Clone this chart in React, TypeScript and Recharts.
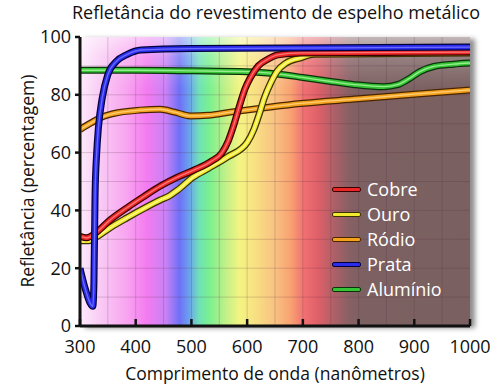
import React from "react";
import { LineChart, Line, XAxis, YAxis, CartesianGrid } from "recharts";

// Refletância de revestimentos metálicos (%). x = comprimento de onda (nm).
const xTicks = [300, 400, 500, 600, 700, 800, 900, 1000];
const yTicks = [0, 20, 40, 60, 80, 100];
const gridX = [350, 400, 450, 500, 550, 600, 650, 700, 750, 800, 850, 900, 950];
const gridY = [10, 20, 30, 40, 50, 60, 70, 80, 90];

const cobreNm = [300, 312, 330, 354, 385, 413, 445, 475, 505, 534, 555, 566, 576, 586, 596, 606, 620, 637, 655, 696, 1000];
const cobrePct = [31, 30.5, 32.5, 36.7, 41, 44.6, 48.5, 51.5, 54, 56.8, 60, 64, 69.5, 76, 82, 86, 90, 92.3, 93.8, 94.5, 94.8];

const ouroNm = [300, 315, 335, 354, 385, 413, 444, 460, 475, 503, 530, 565, 600, 612, 622, 631, 642, 654, 670, 696, 720, 1000];
const ouroPct = [29.5, 29.5, 31.5, 34, 37.5, 40.5, 43.6, 45, 47, 51.5, 54.5, 58.5, 63.5, 68, 73.5, 79, 84, 88.2, 91, 92.8, 94, 94.5];

const rodioNm = [300, 320, 336, 360, 408, 444, 470, 498, 530, 570, 642, 696, 800, 900, 1000];
const rodioPct = [68, 70.3, 72, 73.5, 74.7, 75, 74, 72.7, 72.9, 74, 75.8, 77, 78.6, 80.2, 81.7];

const prataNm = [300, 310, 318, 323, 325, 327, 330, 333, 340, 350, 365, 385, 410, 500, 1000];
const prataPct = [20, 12.5, 8, 6.8, 15, 45, 60, 68.5, 79, 87, 91.5, 94, 95.5, 96, 96.5];

const aluminioNm = [300, 400, 500, 600, 650, 700, 750, 790, 845, 870, 890, 910, 935, 970, 1000];
const aluminioPct = [88.5, 88.5, 88.3, 88, 87.3, 86, 84.6, 83.6, 82.8, 83.5, 85.5, 88, 89.8, 90.6, 91];

const toPoints = (nm: number[], pct: number[]) => nm.map((x, i) => ({ nm: x, pct: pct[i] }));

// ordem de desenho: verde por baixo, azul por cima
const series = [
  { name: "Alumínio", data: toPoints(aluminioNm, aluminioPct), body: "#36c436", edge: "#0b320b", shine: "#aef7a4" },
  { name: "Ródio", data: toPoints(rodioNm, rodioPct), body: "#f3a21e", edge: "#4a2500", shine: "#ffd78c" },
  { name: "Ouro", data: toPoints(ouroNm, ouroPct), body: "#f2ea2e", edge: "#3a3200", shine: "#ffffb0" },
  { name: "Cobre", data: toPoints(cobreNm, cobrePct), body: "#ec2626", edge: "#3a0000", shine: "#ff8c8c" },
  { name: "Prata", data: toPoints(prataNm, prataPct), body: "#2b2bec", edge: "#00003a", shine: "#7c7cff" },
];
const legendOrder = ["Cobre", "Ouro", "Ródio", "Prata", "Alumínio"];

const spectrumStops: [number, string][] = [
  [0, "#fdeafb"],
  [0.05, "#f9ccf5"],
  [0.12, "#f8a4f0"],
  [0.17, "#f47cf0"],
  [0.22, "#c882f6"],
  [0.255, "#6f70f6"],
  [0.28, "#6aa2ee"],
  [0.305, "#70e0b8"],
  [0.33, "#78f092"],
  [0.37, "#bcf088"],
  [0.41, "#f4f482"],
  [0.45, "#f8e082"],
  [0.5, "#f8c282"],
  [0.54, "#f8a272"],
  [0.575, "#f07072"],
  [0.61, "#df6068"],
  [0.65, "#b06068"],
  [0.69, "#886064"],
  [0.72, "#7d6162"],
  [1, "#7a6060"],
];

const spectrumCss =
  "linear-gradient(to bottom, rgba(255,255,255,0.55) 0%, rgba(255,255,255,0.2) 7%, rgba(255,255,255,0) 18%), " +
  `linear-gradient(to right, ${spectrumStops.map(([o, c]) => `${c} ${o * 100}%`).join(", ")})`;

const font = "'Open Sans', 'Noto Sans', sans-serif";
const ink = "#111";

// margem do gráfico: área útil 80..470 x 37..326
const M = { top: 37, right: 30, left: 0, bottom: 0 };
const Y_AXIS_W = 80;
const X_AXIS_H = 62;

// eslint-disable-next-line @typescript-eslint/no-explicit-any
const XTick = (props: any) => {
  const { x, y, payload } = props;
  return (
    <g>
      <line x1={x} y1={y} x2={x} y2={y - 7} stroke={ink} strokeWidth={2.5} />
      <text x={x} y={y + 27} textAnchor="middle" fontSize={18} fill={ink}>
        {payload.value}
      </text>
    </g>
  );
};

function LegendBox() {
  return (
    <div style={{ position: "absolute", left: 332, top: 177, display: "flex", flexDirection: "column" }}>
      {legendOrder.map((name) => {
        const s = series.find((d) => d.name === name)!;
        return (
          <div key={name} style={{ display: "flex", alignItems: "center", height: 25 }}>
            <div
              style={{
                width: 27,
                height: 3,
                background: s.body,
                border: `1px solid ${s.edge}`,
                borderRadius: 2,
              }}
            />
            <span style={{ marginLeft: 6, color: "#fff", fontSize: 18, lineHeight: "25px" }}>{name}</span>
          </div>
        );
      })}
    </div>
  );
}

export default function App() {
  const plotW = 500 - M.left - M.right - Y_AXIS_W;
  const plotH = 388 - M.top - M.bottom - X_AXIS_H;
  return (
    <div style={{ position: "relative", width: 500, height: 388, fontFamily: font, background: "#fff", overflow: "hidden" }}>
      <style>{`body{margin:0}`}</style>

      {/* fundo espectral com sombra */}
      <div
        style={{
          position: "absolute",
          left: M.left + Y_AXIS_W,
          top: M.top,
          width: plotW,
          height: plotH,
          background: spectrumCss,
          boxShadow: "5px 2px 5px rgba(0,0,0,0.45)",
        }}
      />

      <div style={{ position: "absolute", left: 0, top: 0 }}>
        <LineChart width={500} height={388} margin={M}>
          <CartesianGrid horizontalValues={gridY} verticalValues={gridX} stroke="rgba(80,40,60,0.2)" strokeWidth={1} />
          <XAxis
            dataKey="nm"
            type="number"
            domain={[300, 1000]}
            ticks={xTicks}
            height={X_AXIS_H}
            allowDataOverflow
            interval={0}
            axisLine={{ stroke: ink, strokeWidth: 3 }}
            tickLine={false}
            tickSize={0}
            tickMargin={0}
            tick={<XTick />}
          />
          <YAxis
            type="number"
            domain={[0, 100]}
            ticks={yTicks}
            width={Y_AXIS_W}
            interval={0}
            axisLine={{ stroke: ink, strokeWidth: 3 }}
            tickLine={{ stroke: ink, strokeWidth: 2.5 }}
            tickSize={5}
            tickMargin={4}
            tick={{ fill: ink, fontSize: 18 }}
          />
          {series.flatMap((s) => [
            <Line key={s.name + "-edge"} data={s.data} dataKey="pct" type="monotone" stroke={s.edge} strokeWidth={7} dot={false} activeDot={false} legendType="none" isAnimationActive={false} />,
            <Line key={s.name + "-body"} data={s.data} dataKey="pct" type="monotone" stroke={s.body} strokeWidth={4.5} dot={false} activeDot={false} legendType="none" isAnimationActive={false} />,
            <Line key={s.name + "-shine"} data={s.data} dataKey="pct" type="monotone" stroke={s.shine} strokeWidth={1.3} strokeOpacity={0.8} dot={false} activeDot={false} legendType="none" isAnimationActive={false} />,
          ])}
        </LineChart>
      </div>

      <LegendBox />

      <div style={{ position: "absolute", left: 0, width: 552, top: 0, textAlign: "center", fontSize: 18, color: ink, lineHeight: "24px" }}>
        Refletância do revestimento de espelho metálico
      </div>
      <div style={{ position: "absolute", left: 0, width: 550, top: 361, textAlign: "center", fontSize: 17.5, color: ink, lineHeight: "24px" }}>
        Comprimento de onda (nanômetros)
      </div>
      <div
        style={{
          position: "absolute",
          left: 27 - 150,
          top: 181 - 12,
          width: 300,
          textAlign: "center",
          fontSize: 17.5,
          color: ink,
          lineHeight: "24px",
          transform: "rotate(-90deg)",
        }}
      >
        Refletância (percentagem)
      </div>
    </div>
  );
}
